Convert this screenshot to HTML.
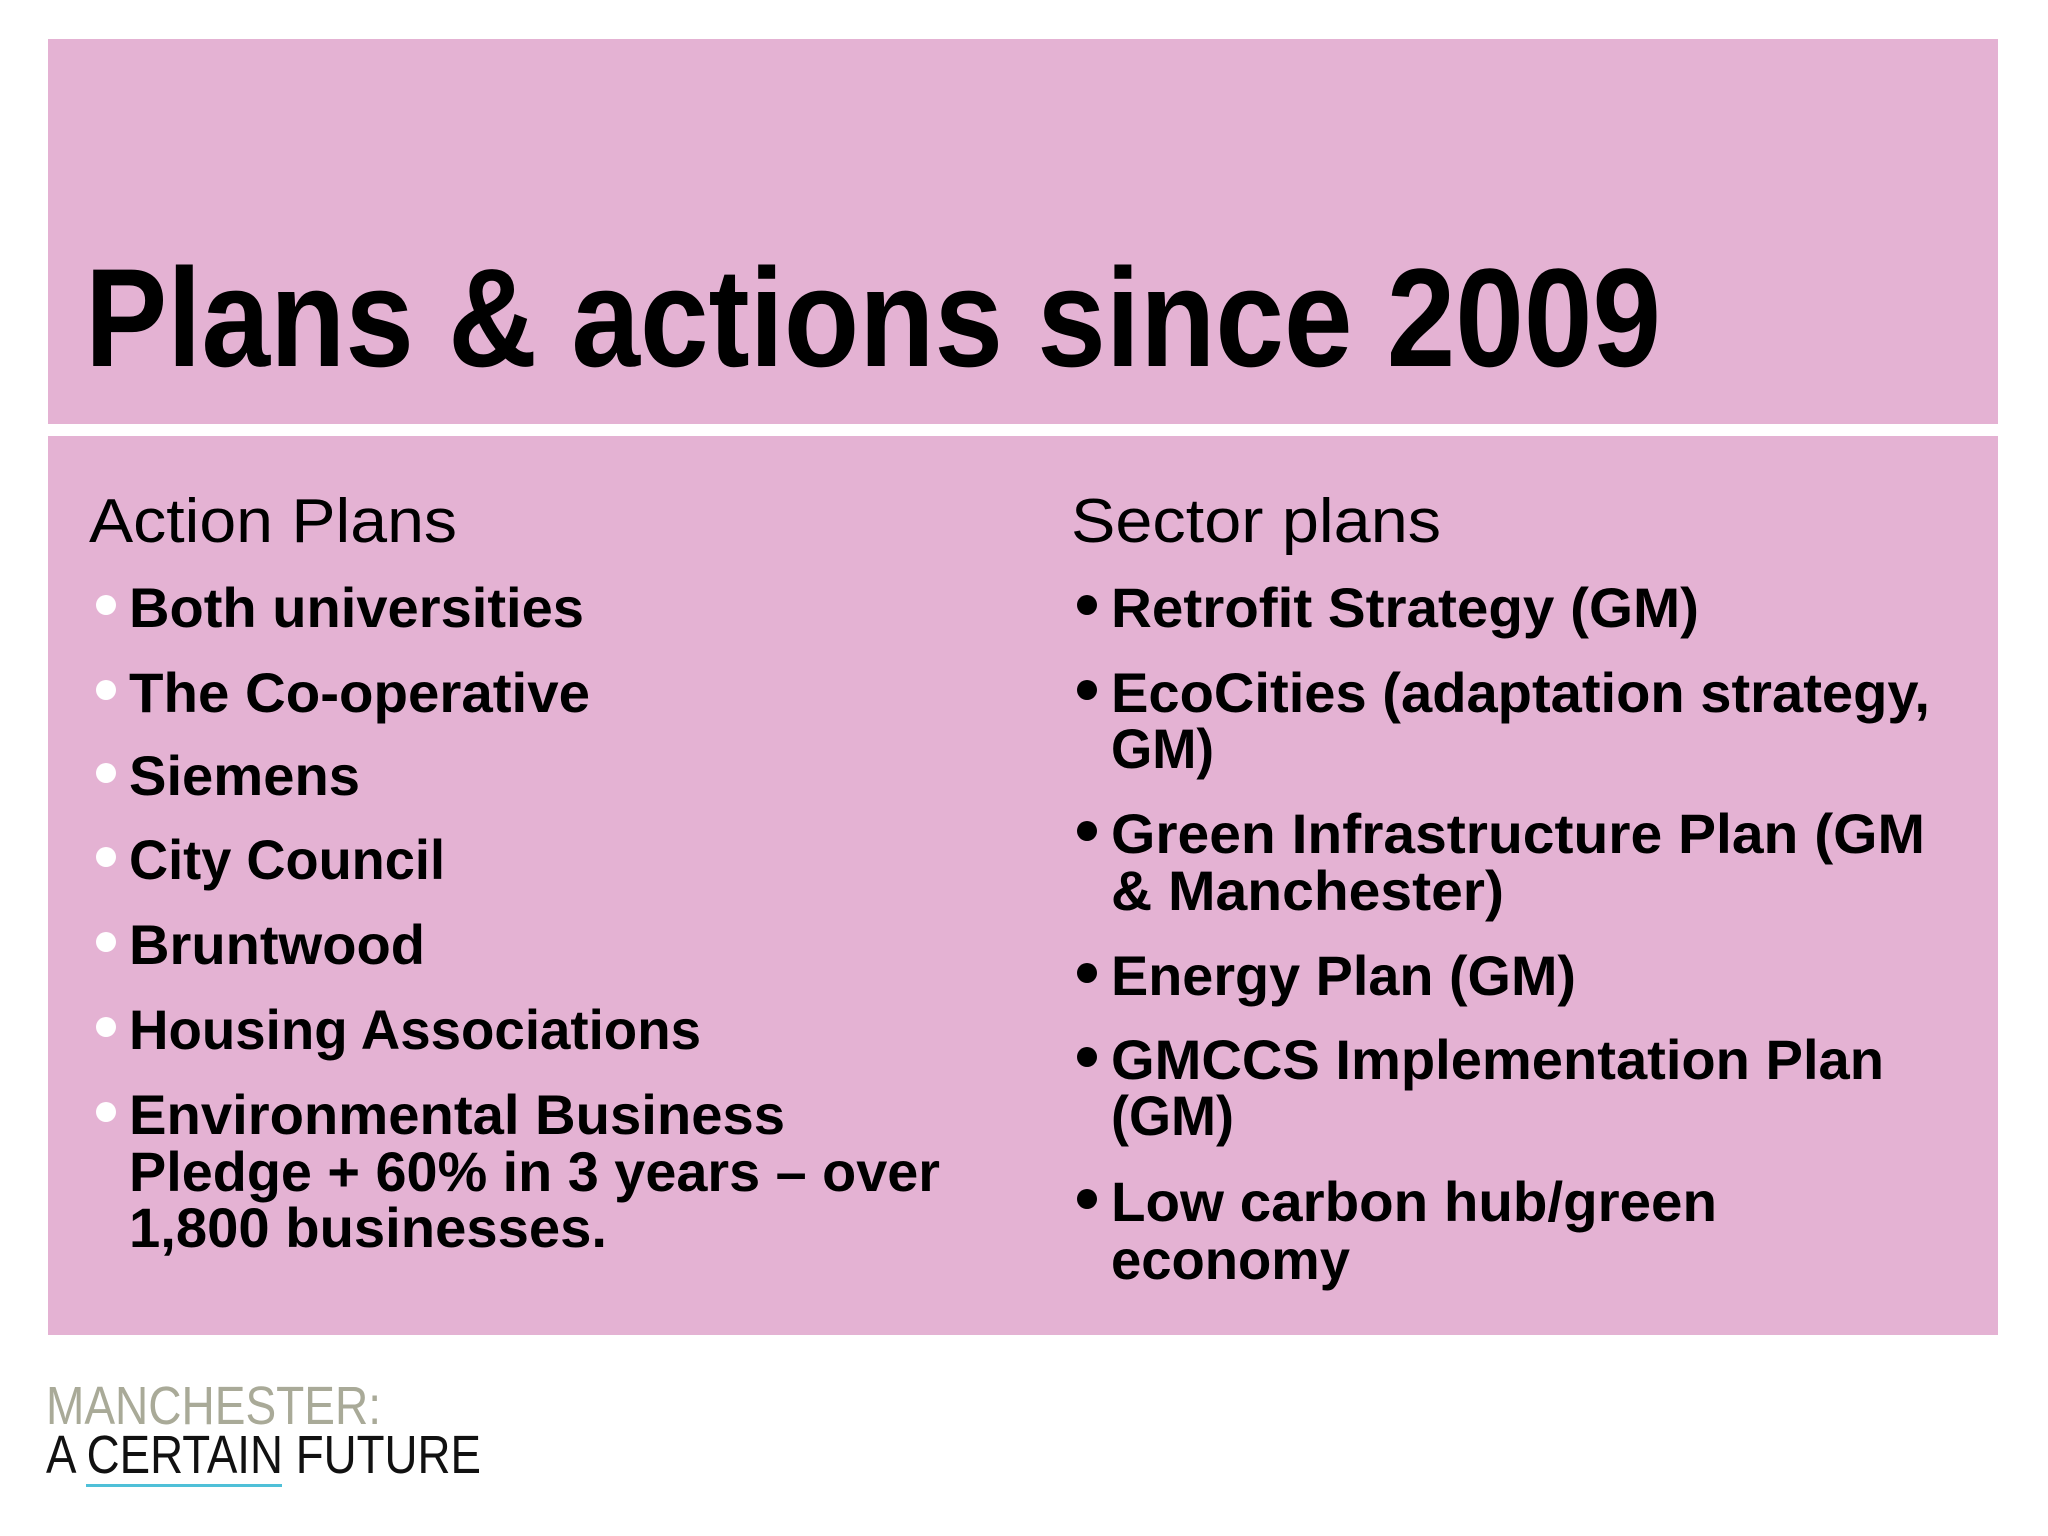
<!DOCTYPE html>
<html><head><meta charset="utf-8"><style>
html,body{margin:0;padding:0;background:#fff;width:2048px;height:1536px;overflow:hidden}
svg{display:block}
text{font-family:"Liberation Sans",sans-serif}
</style></head><body>
<svg width="2048" height="1536" viewBox="0 0 2048 1536">
<rect x="48" y="39" width="1950" height="385" fill="#e4b2d3"/>
<rect x="48" y="436" width="1950" height="899" fill="#e4b2d3"/>
<text x="85" y="366" font-size="140" font-weight="bold" textLength="1576" lengthAdjust="spacingAndGlyphs">Plans &amp; actions since 2009</text>
<text x="89" y="542" font-size="62" textLength="368" lengthAdjust="spacingAndGlyphs">Action Plans</text>
<text x="1071" y="542" font-size="62" textLength="370" lengthAdjust="spacingAndGlyphs">Sector plans</text>
<g font-size="56" font-weight="bold" fill="#000">
<circle cx="106" cy="605" r="10" fill="#fff"/><text x="129" y="627" textLength="455" lengthAdjust="spacingAndGlyphs">Both universities</text>
<circle cx="106" cy="690" r="10" fill="#fff"/><text x="129" y="712" textLength="461" lengthAdjust="spacingAndGlyphs">The Co-operative</text>
<circle cx="106" cy="773" r="10" fill="#fff"/><text x="129" y="795" textLength="231" lengthAdjust="spacingAndGlyphs">Siemens</text>
<circle cx="106" cy="857" r="10" fill="#fff"/><text x="129" y="879" textLength="316" lengthAdjust="spacingAndGlyphs">City Council</text>
<circle cx="106" cy="942" r="10" fill="#fff"/><text x="129" y="964" textLength="296" lengthAdjust="spacingAndGlyphs">Bruntwood</text>
<circle cx="106" cy="1027" r="10" fill="#fff"/><text x="129" y="1049" textLength="572" lengthAdjust="spacingAndGlyphs">Housing Associations</text>
<circle cx="106" cy="1112" r="10" fill="#fff"/><text x="129" y="1134" textLength="656" lengthAdjust="spacingAndGlyphs">Environmental Business</text>
<text x="129" y="1191" textLength="811" lengthAdjust="spacingAndGlyphs">Pledge + 60% in 3 years – over</text>
<text x="129" y="1247" textLength="478" lengthAdjust="spacingAndGlyphs">1,800 businesses.</text>
</g>
<g font-size="56" font-weight="bold" fill="#000">
<circle cx="1087" cy="605" r="10"/><text x="1111" y="627" textLength="588" lengthAdjust="spacingAndGlyphs">Retrofit Strategy (GM)</text>
<circle cx="1087" cy="690" r="10"/><text x="1111" y="712" textLength="819" lengthAdjust="spacingAndGlyphs">EcoCities (adaptation strategy,</text>
<text x="1111" y="768" textLength="103" lengthAdjust="spacingAndGlyphs">GM)</text>
<circle cx="1087" cy="831" r="10"/><text x="1111" y="853" textLength="814" lengthAdjust="spacingAndGlyphs">Green Infrastructure Plan (GM</text>
<text x="1111" y="910" textLength="393" lengthAdjust="spacingAndGlyphs">&amp; Manchester)</text>
<circle cx="1087" cy="973" r="10"/><text x="1111" y="995" textLength="465" lengthAdjust="spacingAndGlyphs">Energy Plan (GM)</text>
<circle cx="1087" cy="1057" r="10"/><text x="1111" y="1079" textLength="773" lengthAdjust="spacingAndGlyphs">GMCCS Implementation Plan</text>
<text x="1111" y="1135" textLength="123" lengthAdjust="spacingAndGlyphs">(GM)</text>
<circle cx="1087" cy="1199" r="10"/><text x="1111" y="1221" textLength="606" lengthAdjust="spacingAndGlyphs">Low carbon hub/green</text>
<text x="1111" y="1279" textLength="239" lengthAdjust="spacingAndGlyphs">economy</text>
</g>
<g>
<text x="46" y="1424" font-size="54" fill="#a9aa98" textLength="335" lengthAdjust="spacingAndGlyphs">MANCHESTER:</text>
<text x="46" y="1473" font-size="54" fill="#111" textLength="435" lengthAdjust="spacingAndGlyphs">A CERTAIN FUTURE</text>
<rect x="86" y="1484" width="196" height="3" fill="#4fc0d8"/>
</g>
</svg>
</body></html>
